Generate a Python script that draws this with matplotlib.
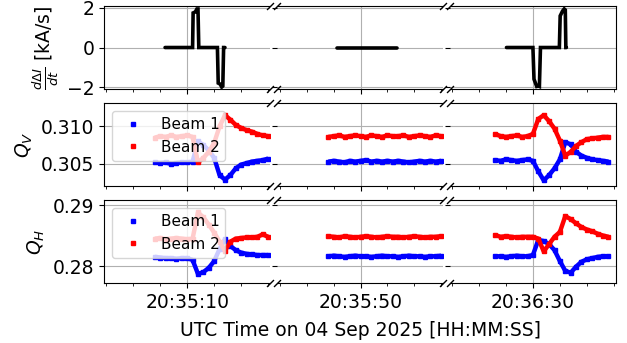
import numpy as np
import matplotlib
matplotlib.use("Agg")
import matplotlib.pyplot as plt
from matplotlib.ticker import MultipleLocator, FuncFormatter

# time axis: seconds after 20:35:00 UTC
T0 = 20 * 3600 + 35 * 60
xlims = [(-5.4, 25.4), (34.4, 65.4), (74.6, 105.4)]

# current derivative [kA/s]
t_didt = [5.9, 7, 8, 9, 10, 11.0, 11.1, 11.5, 11.8, 12.0, 12.15, 13, 14, 15, 15.6,
          15.75, 16.1, 16.4, 16.6, 16.75, 17.0,
          45.6, 47, 49, 51, 53, 55, 56.8,
          85.1, 86, 87, 88, 89, 90.0, 90.2, 90.7, 91.0, 91.2, 91.4, 92, 93, 94, 94.9,
          95.05, 95.5, 95.8, 96.0, 96.1, 96.2]
didt = [0, 0, 0, 0, 0, 0, 1.75, 1.8, 1.95, 1.95, 0, 0, 0, 0, 0,
        -1.8, -1.85, -2.0, -1.95, 0, 0,
        0, 0, 0, 0, 0, 0, 0,
        0, 0, 0, 0, 0, 0, -1.6, -1.97, -1.95, -1.97, 0, 0, 0, 0, 0,
        1.6, 1.85, 1.95, 1.9, 0, 0]

# tune samples (1 Hz)
t_tune = [4, 5, 6, 7, 8, 9, 10, 11, 12, 13, 14, 15, 16, 17, 18, 19, 20, 21, 22, 23, 24, 25,
          44, 45, 46, 47, 48, 49, 50, 51, 52, 53, 54, 55, 56, 57, 58, 59, 60, 61, 62, 63, 64, 65,
          83, 84, 85, 86, 87, 88, 89, 90, 91, 92, 93, 94, 95, 96, 97, 98, 99, 100, 101, 102, 103, 104]

qv_b1 = [0.3052, 0.3051, 0.3052, 0.3050, 0.3051, 0.3052, 0.3052, 0.3053, 0.3080, 0.3075, 0.3068,
         0.3058, 0.3035, 0.3029, 0.3035, 0.3044, 0.3049, 0.3051, 0.3053, 0.3054, 0.3055, 0.3057,
         0.3053, 0.3054, 0.3053, 0.3052, 0.3054, 0.3053, 0.3054, 0.3055, 0.3053, 0.3054, 0.3053,
         0.3054, 0.3053, 0.3054, 0.3053, 0.3052, 0.3053, 0.3054, 0.3053, 0.3054, 0.3053, 0.3054,
         0.3055, 0.3054, 0.3056, 0.3055, 0.3054, 0.3055, 0.3056, 0.3054, 0.3040, 0.3028, 0.3035,
         0.3044, 0.3056, 0.3079, 0.3076, 0.3066, 0.3061, 0.3058, 0.3056, 0.3055, 0.3054, 0.3053]
qv_b2 = [0.3085, 0.3087, 0.3086, 0.3088, 0.3086, 0.3087, 0.3088, 0.3086, 0.3052, 0.3058, 0.3066,
         0.3078, 0.3100, 0.3115, 0.3109, 0.3102, 0.3098, 0.3095, 0.3093, 0.3090, 0.3088, 0.3087,
         0.3086, 0.3087, 0.3088, 0.3086, 0.3087, 0.3088, 0.3087, 0.3086, 0.3088, 0.3087, 0.3086,
         0.3088, 0.3087, 0.3087, 0.3088, 0.3086, 0.3087, 0.3088, 0.3087, 0.3086, 0.3088, 0.3087,
         0.3090, 0.3087, 0.3086, 0.3087, 0.3088, 0.3086, 0.3087, 0.3090, 0.3110, 0.3115, 0.3107,
         0.3097, 0.3081, 0.3061, 0.3066, 0.3074, 0.3079, 0.3083, 0.3084, 0.3085, 0.3086, 0.3086]
qh_b1 = [0.2815, 0.2814, 0.2813, 0.2813, 0.2812, 0.2813, 0.2813, 0.2810, 0.2787, 0.2790, 0.2797,
         0.2808, 0.2828, 0.2844, 0.2833, 0.2826, 0.2822, 0.2820, 0.2819, 0.2818, 0.2818, 0.2818,
         0.2816, 0.2817, 0.2816, 0.2815, 0.2816, 0.2817, 0.2816, 0.2816, 0.2815, 0.2816, 0.2817,
         0.2816, 0.2816, 0.2815, 0.2816, 0.2817, 0.2816, 0.2816, 0.2815, 0.2816, 0.2816, 0.2817,
         0.2816, 0.2816, 0.2815, 0.2816, 0.2817, 0.2816, 0.2816, 0.2818, 0.2843, 0.2841, 0.2836,
         0.2826, 0.2808, 0.2792, 0.2789, 0.2799, 0.2807, 0.2811, 0.2813, 0.2815, 0.2816, 0.2816]
qh_b2 = [0.2845, 0.2846, 0.2844, 0.2845, 0.2846, 0.2845, 0.2844, 0.2845, 0.2888, 0.2880, 0.2868,
         0.2855, 0.2840, 0.2825, 0.2840, 0.2845, 0.2846, 0.2847, 0.2847, 0.2848, 0.2852, 0.2848,
         0.2849, 0.2848, 0.2847, 0.2849, 0.2848, 0.2847, 0.2848, 0.2849, 0.2848, 0.2847, 0.2848,
         0.2849, 0.2848, 0.2848, 0.2847, 0.2848, 0.2849, 0.2848, 0.2847, 0.2848, 0.2848, 0.2849,
         0.2851, 0.2848, 0.2849, 0.2848, 0.2847, 0.2848, 0.2848, 0.2848, 0.2845, 0.2824, 0.2836,
         0.2848, 0.2856, 0.2882, 0.2877, 0.2870, 0.2864, 0.2860, 0.2857, 0.2853, 0.2850, 0.2848]


def hms(s, pos=None):
    total = T0 + int(round(s))
    return f"{total // 3600:02d}:{total % 3600 // 60:02d}:{total % 60:02d}"


FS = 13.5
plt.rcParams["font.size"] = FS

fig = plt.figure(figsize=(6.27, 3.43), dpi=100)
gs = fig.add_gridspec(3, 3, left=0.166, right=0.9825, top=0.9825, bottom=0.174,
                      hspace=0.17, wspace=0.04)
axes = np.empty((3, 3), dtype=object)
for r in range(3):
    for c in range(3):
        axes[r, c] = fig.add_subplot(gs[r, c],
                                     sharex=axes[0, c] if r > 0 else None,
                                     sharey=axes[r, 0] if c > 0 else None)

t_didt = np.asarray(t_didt)
didt = np.asarray(didt)
t_tune = np.asarray(t_tune)
rows = [
    [(t_didt, didt, "black", None)],
    [(t_tune, np.asarray(qv_b1), "blue", "Beam 1"), (t_tune, np.asarray(qv_b2), "red", "Beam 2")],
    [(t_tune, np.asarray(qh_b1), "blue", "Beam 1"), (t_tune, np.asarray(qh_b2), "red", "Beam 2")],
]

for r in range(3):
    for c in range(3):
        ax = axes[r, c]
        lo, hi = xlims[c]
        for t, y, col, lab in rows[r]:
            m = (t >= lo) & (t <= hi)
            if r == 0:
                ax.plot(t[m], y[m], "-", color=col, lw=2.6,
                        solid_capstyle="round", solid_joinstyle="miter")
            else:
                ax.plot(t[m], y[m], "-", color=col, lw=3.2, solid_capstyle="butt")
                ax.plot(t[m], y[m], "s", color=col, ms=3.2, label=lab)
        ax.set_xlim(lo, hi)
        ax.xaxis.set_major_locator(MultipleLocator(40, offset=10))
        ax.xaxis.set_minor_locator(MultipleLocator(5))
        ax.xaxis.set_major_formatter(FuncFormatter(hms))
        ax.grid(True, which="major", color="#b0b0b0", lw=0.8)
        ax.tick_params(labelsize=FS)
        if r < 2:
            ax.tick_params(labelbottom=False)
        if c > 0:
            ax.spines["left"].set_visible(False)
            ax.tick_params(labelleft=False)
        if c < 2:
            ax.spines["right"].set_visible(False)

        # break marks
        kw = dict(marker=[(-1, -1), (1, 1)], markersize=5, linestyle="none",
                  color="k", mec="k", mew=1, clip_on=False, transform=ax.transAxes)
        if c > 0:
            ax.plot([0, 0], [0, 1], **kw)
        if c < 2:
            ax.plot([1, 1], [0, 1], **kw)

axes[0, 0].set_ylim(-2.1, 2.1)
axes[0, 0].yaxis.set_major_locator(MultipleLocator(2))
axes[1, 0].set_ylim(0.30202, 0.31311)
axes[1, 0].yaxis.set_major_locator(MultipleLocator(0.005))
axes[2, 0].set_ylim(0.27716, 0.2908)
axes[2, 0].yaxis.set_major_locator(MultipleLocator(0.01))
for r in (1, 2):
    axes[r, 0].ticklabel_format(axis="y", useOffset=False)
    axes[r, 0].legend(loc="upper left", fontsize=11)

axes[0, 0].set_ylabel(r"$\frac{d\Delta I}{dt}$ [kA/s]")
axes[1, 0].set_ylabel(r"$Q_V$")
axes[2, 0].set_ylabel(r"$Q_H$")
fig.text((0.166 + 0.9825) / 2, 0.01, "UTC Time on 04 Sep 2025 [HH:MM:SS]",
         ha="center", va="bottom", fontsize=FS)

fig.savefig("out.png", dpi=100)
